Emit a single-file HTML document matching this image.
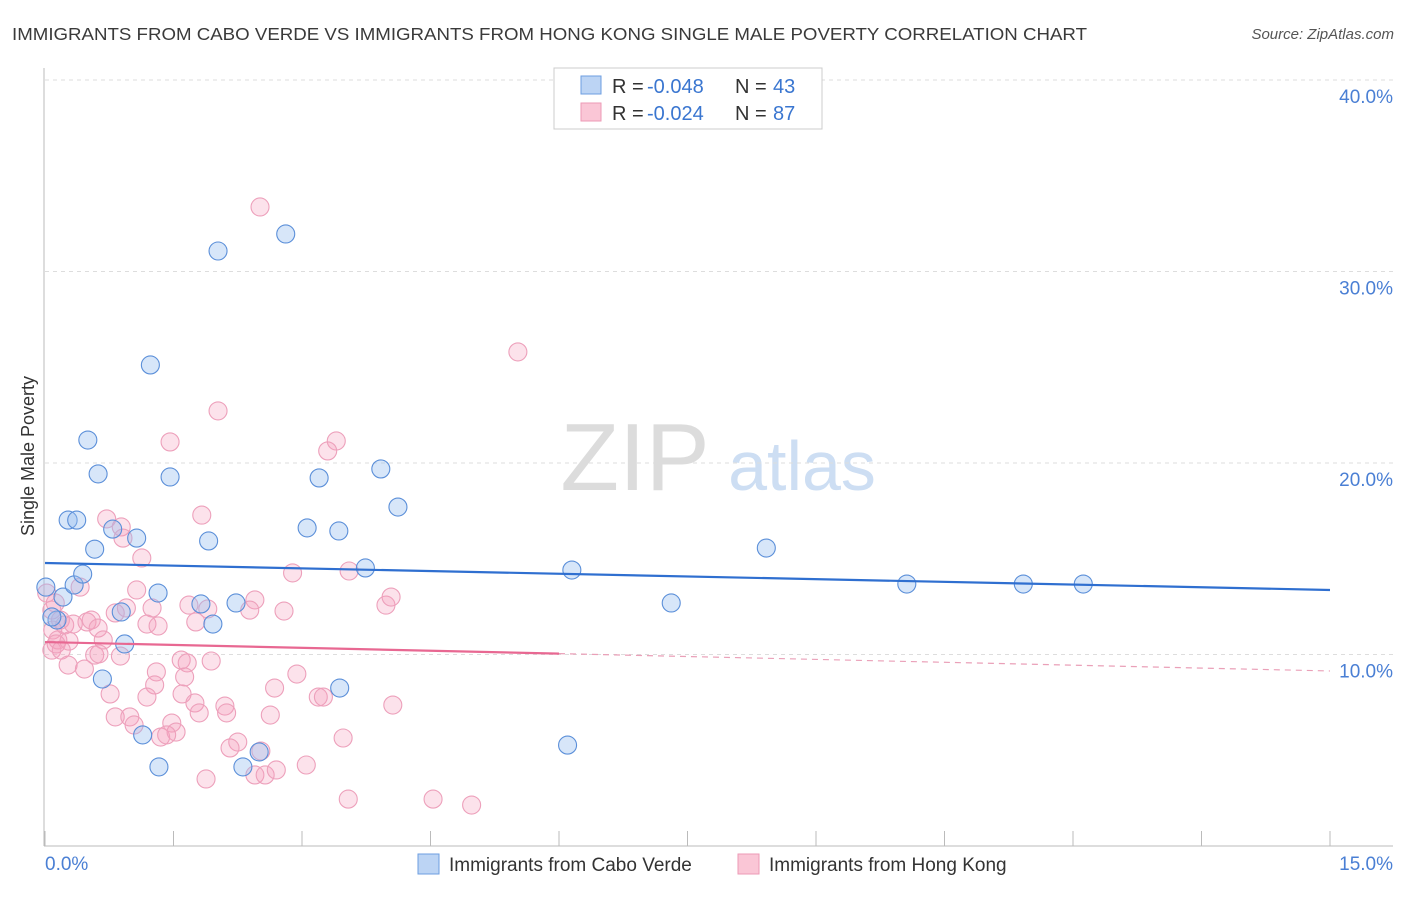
<!DOCTYPE html>
<html><head><meta charset="utf-8"><style>
body{margin:0;background:#fff;font-family:"Liberation Sans",sans-serif;}
svg text{font-family:"Liberation Sans",sans-serif;}
</style></head><body>
<svg id="chart" width="1406" height="892" xmlns="http://www.w3.org/2000/svg">
<text x="12" y="40" font-size="17.5" fill="#3a3a3a" textLength="1075" lengthAdjust="spacingAndGlyphs">IMMIGRANTS FROM CABO VERDE VS IMMIGRANTS FROM HONG KONG SINGLE MALE POVERTY CORRELATION CHART</text>
<text x="1394" y="39" font-size="15" fill="#555" font-style="italic" text-anchor="end">Source: ZipAtlas.com</text>
<g>
<text x="635" y="490" font-size="96" fill="#dcdcdc" font-family="Liberation Serif" text-anchor="middle">ZIP</text>
<text x="802" y="490" font-size="70" fill="#cddef3" text-anchor="middle">atlas</text>
</g>
<g id="grid"></g>
<g id="axes"></g>
<g id="pts"></g>
<g id="trend"></g>
<g>
<rect x="554" y="68" width="268" height="61" fill="#fff" stroke="#ccc"/>
<rect x="581" y="76" width="20" height="18" fill="#bcd4f4" stroke="#6d9ee0"/>
<rect x="581" y="103" width="20" height="18" fill="#fac6d6" stroke="#ec9ab6"/>
<text x="612" y="93" font-size="20" fill="#333">R = </text><text x="647" y="93" font-size="20" fill="#3a76d0">-0.048</text>
<text x="735" y="93" font-size="20" fill="#333">N = </text><text x="773" y="93" font-size="20" fill="#3a76d0">43</text>
<text x="612" y="120" font-size="20" fill="#333">R = </text><text x="647" y="120" font-size="20" fill="#3a76d0">-0.024</text>
<text x="735" y="120" font-size="20" fill="#333">N = </text><text x="773" y="120" font-size="20" fill="#3a76d0">87</text>
</g>
<g>
<rect x="418" y="854" width="21" height="20" fill="#bcd4f4" stroke="#6d9ee0"/>
<text x="449" y="871" font-size="19" fill="#333">Immigrants from Cabo Verde</text>
<rect x="738" y="854" width="21" height="20" fill="#fac6d6" stroke="#ec9ab6"/>
<text x="769" y="871" font-size="19" fill="#333">Immigrants from Hong Kong</text>
</g>
<text transform="translate(34,456) rotate(-90)" font-size="18" fill="#333" text-anchor="middle">Single Male Poverty</text>
</svg>
<script>
const blueX=[0.01,0.21,0.14,0.08,0.34,0.44,0.50,0.58,0.62,0.27,0.37,0.79,1.07,0.89,0.93,0.67,1.14,1.23,1.32,1.33,1.46,1.82,1.91,1.96,2.02,2.23,2.31,2.50,2.81,3.06,3.20,3.43,3.44,3.74,3.92,4.12,6.15,6.10,7.31,8.42,10.06,11.42,12.12];
const blueY=[13.52,13.0,11.8,11.96,13.63,14.2,21.2,15.5,19.43,17.02,17.02,16.55,16.08,12.22,10.55,8.72,5.8,25.12,13.21,4.13,19.27,12.64,15.93,11.59,31.07,12.69,4.13,4.91,31.96,16.61,19.22,16.45,8.25,14.52,19.69,17.70,14.41,5.27,12.69,15.56,13.68,13.68,13.68];
const pinkX=[2.51,5.52,2.02,1.46,3.40,3.30,1.83,0.72,0.89,0.91,1.13,2.89,3.55,0.02,0.12,0.41,1.07,2.45,0.08,1.68,1.90,0.95,1.25,2.39,2.79,3.98,4.04,0.09,0.18,0.23,0.33,0.49,0.54,0.62,0.82,1.19,1.32,1.76,0.15,0.28,0.68,0.08,0.13,0.19,0.58,0.88,0.27,0.46,0.63,1.59,1.66,1.94,1.30,1.28,1.63,1.60,1.75,2.94,0.76,1.19,2.68,3.19,3.25,2.10,1.80,0.82,0.99,1.04,1.48,2.12,2.63,4.06,1.35,1.53,1.42,3.48,2.25,2.16,2.52,2.45,2.57,2.70,3.05,1.88,3.54,4.53,4.98];
const pinkY=[33.37,25.80,22.72,21.10,21.15,20.63,17.28,17.08,16.66,16.08,15.04,14.26,14.36,13.21,12.69,13.52,13.37,12.85,12.32,12.58,12.38,12.43,12.43,12.32,12.27,12.58,13.0,11.28,11.80,11.54,11.59,11.70,11.80,11.38,12.17,11.59,11.49,11.70,10.76,10.70,10.76,10.23,10.55,10.23,9.97,9.92,9.45,9.24,10.03,9.71,9.56,9.66,9.09,8.41,8.83,7.94,7.47,8.98,7.94,7.78,8.25,7.78,7.78,7.31,6.95,6.74,6.74,6.32,6.42,6.95,6.84,7.36,5.69,5.95,5.80,5.64,5.43,5.12,4.96,3.71,3.71,3.97,4.23,3.50,2.45,2.45,2.14];
const blueTrend=[14.78,13.37];
const pinkTrend=[10.65,9.14];
const pinkSolidEnd=6.0;
const yTicks=[10,20,30,40];
const yTickLabels=["10.0%","20.0%","30.0%","40.0%"];
const xTickLabels=["0.0%","15.0%"];
const X0=45,X1=1330,XMAX=15,Y0=846,PY=19.15;
const sx=v=>X0+v*(X1-X0)/XMAX, sy=v=>Y0-v*PY;
const NS="http://www.w3.org/2000/svg";
function mk(tag,attrs,parent){const e=document.createElementNS(NS,tag);for(const k in attrs)e.setAttribute(k,attrs[k]);document.getElementById(parent).appendChild(e);return e;}
yTicks.forEach((t,i)=>{
  const l=mk('line',{x1:45,x2:1393,y1:sy(t),y2:sy(t),stroke:'#ddd','stroke-dasharray':'4,4'},'grid');
  
  
  const tx=mk('text',{x:1393,y:sy(t)+23,'font-size':19,fill:'#4a7fd4','text-anchor':'end'},'axes');
  tx.textContent=yTickLabels[i];
  
  
});
let a=mk('line',{x1:44,x2:44,y1:68,y2:846,stroke:'#bbb'},'axes');


a=mk('line',{x1:44,x2:1393,y1:846,y2:846,stroke:'#bbb'},'axes');


for(let i=0;i<=10;i++){const t=mk('line',{x1:sx(i*1.5),x2:sx(i*1.5),y1:831,y2:846,stroke:'#bbb'},'axes');
  
  }
let xl=mk('text',{x:45,y:870,'font-size':19,fill:'#4a7fd4'},'axes');xl.textContent=xTickLabels[0];


xl=mk('text',{x:1393,y:870,'font-size':19,fill:'#4a7fd4','text-anchor':'end'},'axes');xl.textContent=xTickLabels[1];


pinkX.forEach((x,i)=>{const c=mk('circle',{cx:sx(x),cy:sy(pinkY[i]),r:9,fill:'rgba(244,160,190,0.3)',stroke:'#eda0bb','stroke-width':1.1},'pts');
  
  });
blueX.forEach((x,i)=>{const c=mk('circle',{cx:sx(x),cy:sy(blueY[i]),r:9,fill:'rgba(150,190,240,0.38)',stroke:'#5b8fd9','stroke-width':1.1},'pts');
  
  });
const py=x=>pinkTrend[0]+(pinkTrend[1]-pinkTrend[0])*x/XMAX;
let t=mk('line',{x1:sx(0),y1:sy(blueTrend[0]),x2:sx(XMAX),y2:sy(blueTrend[1]),stroke:'#2f6fd0','stroke-width':2.2},'trend');


t=mk('line',{x1:sx(0),y1:sy(py(0)),x2:sx(pinkSolidEnd),y2:sy(py(pinkSolidEnd)),stroke:'#e86892','stroke-width':2.2},'trend');


t=mk('line',{x1:sx(pinkSolidEnd),y1:sy(py(pinkSolidEnd)),x2:sx(XMAX),y2:sy(py(XMAX)),stroke:'#eaa0b8','stroke-width':1.2,'stroke-dasharray':'6,5'},'trend');


</script>
</body></html>
